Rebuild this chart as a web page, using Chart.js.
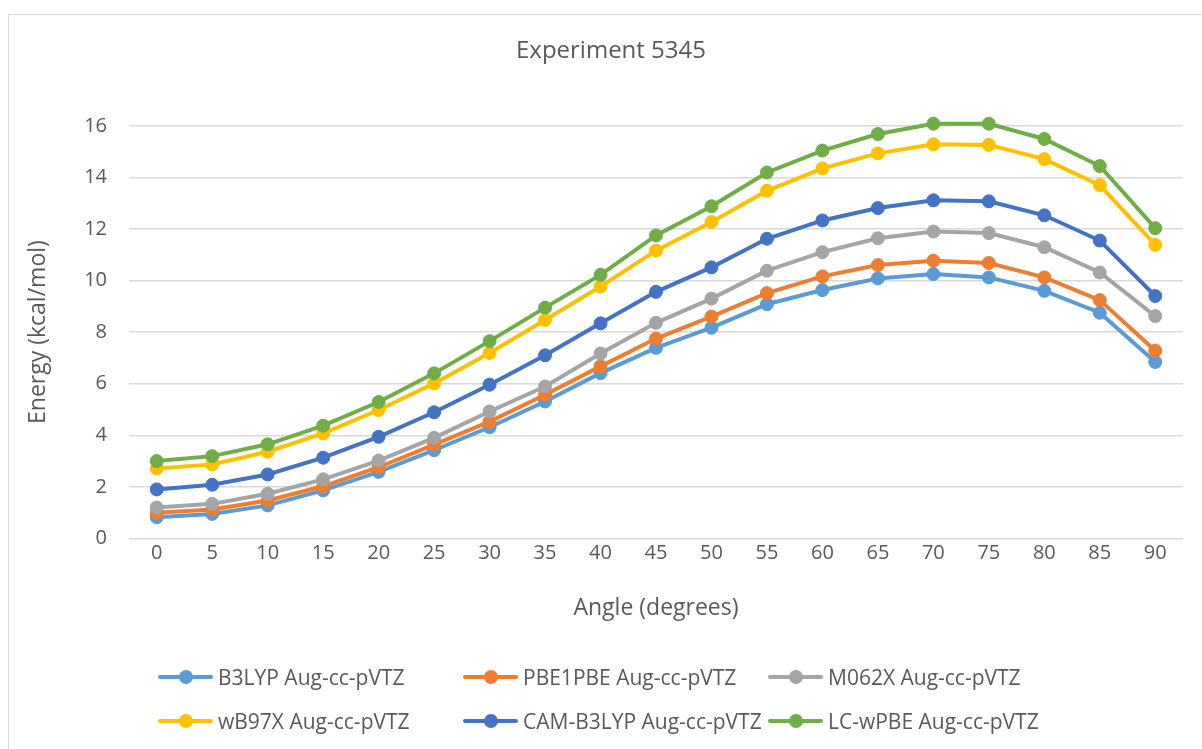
<!DOCTYPE html>
<html>
<head>
<meta charset="utf-8">
<title>Experiment 5345</title>
<script src="https://cdn.jsdelivr.net/npm/chart.js@4.4.1/dist/chart.umd.min.js"></script>
<style>
	body { margin: 0; background: #fff; font-family: "Open Sans", sans-serif; }
	#frame { position: absolute; left: 8px; top: 14px; width: 1210px; height: 760px; border: 1px solid #d9d9d9; box-sizing: border-box; }
	#wrap { position: absolute; left: 0; top: 0; width: 1202px; height: 640px; }
	#legend { position: absolute; left: 0; top: 0; width: 1202px; height: 749px; pointer-events: none; }
	.lg-item { position: absolute; height: 30px; display: flex; align-items: center; color: #595959; font-size: 21px; white-space: nowrap; }
	.lg-line { position: relative; width: 55px; height: 30px; margin-right: 5px; }
	.lg-line span.l { position: absolute; left: 0; right: 0; top: 13px; height: 4px; border-radius: 2px; }
	.lg-line span.d { position: absolute; left: 21px; top: 8px; width: 14px; height: 14px; border-radius: 50%; }
</style>
</head>
<body>
<div id="frame"></div>
<div id="wrap"><canvas id="lineChart_1"></canvas></div>
<div id="legend"></div>
<script>
// data
var angles = ["0", "5", "10", "15", "20", "25", "30", "35", "40", "45", "50", "55", "60", "65", "70", "75", "80", "85", "90"];
var yTicks = [0, 2, 4, 6, 8, 10, 12, 14, 16];

var b3lyp   = [0.82, 0.95, 1.28, 1.86, 2.58, 3.42, 4.31, 5.31, 6.41, 7.39, 8.17, 9.08, 9.63, 10.08, 10.25, 10.12, 9.60, 8.75, 6.84];
var pbe1pbe = [0.99, 1.12, 1.47, 2.02, 2.76, 3.64, 4.53, 5.57, 6.67, 7.75, 8.60, 9.51, 10.16, 10.60, 10.77, 10.68, 10.12, 9.24, 7.28];
var m062x   = [1.20, 1.34, 1.73, 2.29, 3.02, 3.90, 4.92, 5.89, 7.17, 8.36, 9.30, 10.38, 11.10, 11.64, 11.90, 11.84, 11.29, 10.31, 8.62];
var wb97x   = [2.71, 2.87, 3.36, 4.07, 4.98, 6.01, 7.19, 8.47, 9.77, 11.16, 12.27, 13.48, 14.35, 14.93, 15.28, 15.26, 14.71, 13.70, 11.38];
var camb3   = [1.90, 2.08, 2.48, 3.13, 3.94, 4.89, 5.96, 7.10, 8.34, 9.56, 10.51, 11.62, 12.33, 12.81, 13.11, 13.07, 12.53, 11.55, 9.40];
var lcwpbe  = [3.00, 3.19, 3.65, 4.37, 5.29, 6.40, 7.65, 8.95, 10.22, 11.75, 12.88, 14.19, 15.04, 15.68, 16.08, 16.08, 15.49, 14.44, 12.03];

var seriesNames = ["B3LYP Aug-cc-pVTZ", "PBE1PBE Aug-cc-pVTZ", "M062X Aug-cc-pVTZ", "wB97X Aug-cc-pVTZ", "CAM-B3LYP Aug-cc-pVTZ", "LC-wPBE Aug-cc-pVTZ"];
var seriesData = [b3lyp, pbe1pbe, m062x, wb97x, camb3, lcwpbe];
var seriesColors = ["#5b9bd5", "#ed7d31", "#a5a5a5", "#ffc000", "#4472c4", "#70ad47"];

var textGray = "#595959";
var gridGray = "#d9d9d9";

var lineChart = function(){
	var ctx = document.getElementById("lineChart_1").getContext('2d');

	var datasets = seriesData.map(function(d, i){
		return {
			label: seriesNames[i],
			data: d,
			borderColor: seriesColors[i],
			backgroundColor: seriesColors[i],
			pointBackgroundColor: seriesColors[i],
			pointBorderColor: seriesColors[i],
			borderWidth: 4,
			pointRadius: 6.5,
			pointBorderWidth: 1,
			tension: 0,
			clip: false,
			// excel draws later series on top
			order: seriesData.length - i
		};
	});

	var config = {
		type: 'line',
		data: {
			labels: angles,
			datasets: datasets
		},
		options: {
			responsive: true,
			maintainAspectRatio: false,
			animation: false,
			layout: {
				padding: { top: 37, left: 39, right: 19, bottom: 18 }
			},
			plugins: {
				legend: false,
				tooltip: { enabled: false },
				title: {
					display: true,
					text: 'Experiment 5345',
					color: textGray,
					font: { family: 'Open Sans', size: 24, weight: 'normal' },
					padding: { top: 0, bottom: 60 }
				}
			},
			scales: {
				y: {
					min: 0,
					max: 16,
					afterBuildTicks: function(axis){
						axis.ticks = yTicks.map(function(v){ return { value: v }; });
					},
					afterFit: function(axis){ axis.width = 90; },
					grid: { color: gridGray, lineWidth: 1.5, drawTicks: false },
					border: { display: false },
					ticks: {
						color: textGray,
						padding: 22,
						font: { family: 'Open Sans', size: 20 }
					},
					title: {
						display: true,
						text: 'Energy (kcal/mol)',
						color: textGray,
						font: { family: 'Open Sans', size: 23 },
						// pull the title a bit out to the left, like excel
						padding: { top: -14, bottom: 0 }
					}
				},
				x: {
					offset: true,
					grid: { display: false, drawTicks: false, offset: true },
					border: { display: false },
					ticks: {
						color: textGray,
						padding: 3,
						maxRotation: 0,
						autoSkip: false,
						font: { family: 'Open Sans', size: 20 }
					},
					title: {
						display: true,
						text: 'Angle (degrees)',
						color: textGray,
						font: { family: 'Open Sans', size: 23 },
						padding: { top: 26, bottom: 0 }
					}
				}
			}
		}
	};

	var chart = new Chart(ctx, config);

	// legend laid out in excel's 3 column grid
	var legend = document.getElementById("legend");
	var colX = [158, 463, 768];
	var rowY = [662, 706];
	chart.data.datasets.forEach(function(ds, i){
		var item = document.createElement("div");
		item.className = "lg-item";
		item.style.left = colX[i % 3] + "px";
		item.style.top = rowY[Math.floor(i / 3)] + "px";
		item.innerHTML = '<div class="lg-line"><span class="l" style="background:' + ds.borderColor + '"></span>' +
			'<span class="d" style="background:' + ds.borderColor + '"></span></div><span>' + ds.label + '</span>';
		legend.appendChild(item);
	});
};

lineChart();
</script>
</body>
</html>
